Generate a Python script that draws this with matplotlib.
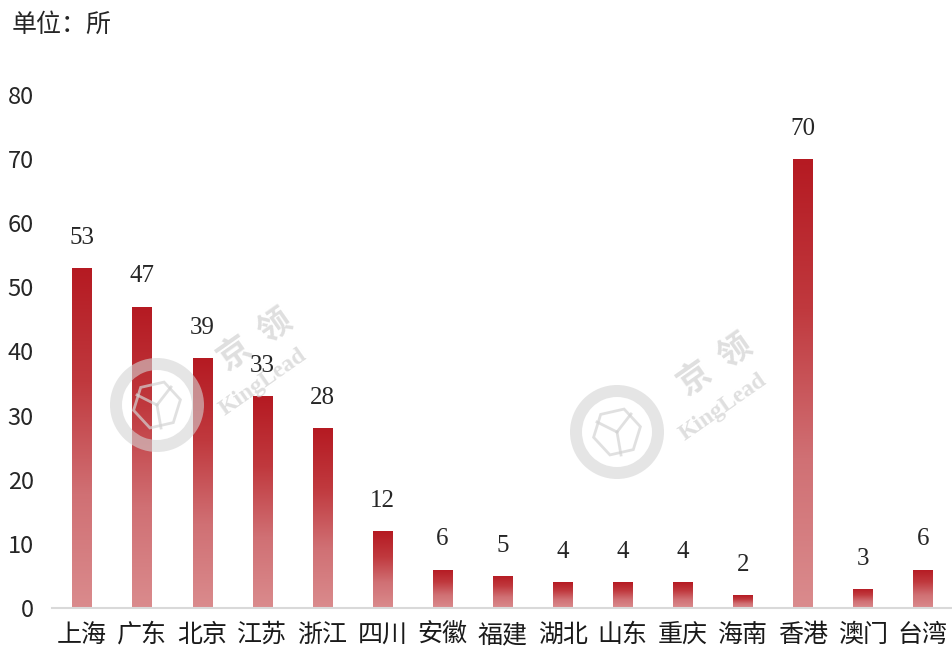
import numpy as np
import matplotlib.pyplot as plt
from matplotlib.colors import LinearSegmentedColormap
from matplotlib.patches import Wedge, RegularPolygon

plt.rcParams['font.family'] = ['Noto Sans CJK SC', 'DejaVu Sans']

regions = ['上海', '广东', '北京', '江苏', '浙江', '四川', '安徽', '福建', '湖北',
           '山东', '重庆', '海南', '香港', '澳门', '台湾']
counts = [53, 47, 39, 33, 28, 12, 6, 5, 4, 4, 4, 2, 70, 3, 6]
yticks = [0, 10, 20, 30, 40, 50, 60, 70, 80]

fig = plt.figure(figsize=(9.53, 6.52), dpi=100)
ax = fig.add_axes([52 / 953, 1 - 608 / 652, 901 / 953, 513 / 652])

# gradient: pink at bottom, dark red at top
cmap = LinearSegmentedColormap.from_list('bar_grad', ['#DA8B8D', '#D07074', '#C0393E', '#B51A22'])
grad = np.linspace(0, 1, 256).reshape(-1, 1)

x = np.arange(len(regions))
bars = ax.bar(x, counts, width=0.32, color='none', edgecolor='none', zorder=2)
for rect, v in zip(bars, counts):
    bx, bw = rect.get_x(), rect.get_width()
    im = ax.imshow(grad, extent=[bx, bx + bw, 0, v], origin='lower', aspect='auto',
                   cmap=cmap, zorder=2)
    im.set_clip_path(rect)
    ax.text(bx + bw / 2, v + 3.0, str(v), ha='center', va='bottom',
            fontsize=18, family=['Liberation Serif'], color='#262626')

ax.set_xlim(-0.5, len(regions) - 0.5)
ax.set_ylim(0, 80)
ax.set_yticks(yticks)
ax.set_xticks(x)
ax.set_xticklabels(regions, fontsize=18, color='#1a1a1a')
ax.tick_params(axis='y', labelsize=17, length=0, pad=13, labelcolor='#262626')
ax.tick_params(axis='x', length=0, pad=10)
for s in ['top', 'right', 'left']:
    ax.spines[s].set_visible(False)
ax.spines['bottom'].set_color('#D9D9D9')
ax.spines['bottom'].set_linewidth(1.5)

fig.text(12 / 953, 1 - 25 / 652, '单位：所', fontsize=18, va='center', ha='left', color='#262626')

# faint watermarks drawn in a pixel-space overlay
ov = fig.add_axes([0, 0, 1, 1], zorder=5)
ov.set_xlim(0, 953)
ov.set_ylim(652, 0)
ov.axis('off')
wm = '#D4D4D4'
for cx, cy, tx, ty in [(157, 405, 255, 340), (617, 432, 715, 365)]:
    ov.add_patch(Wedge((cx, cy), 47, 0, 360, width=12, facecolor=wm, edgecolor='none', alpha=0.6))
    ov.add_patch(RegularPolygon((cx, cy), 6, radius=24, orientation=0.3, facecolor='none',
                                edgecolor=wm, lw=2, alpha=0.7))
    ov.plot([cx, cx - 20], [cy, cy - 10], color=wm, lw=2, alpha=0.7)
    ov.plot([cx, cx + 14], [cy, cy - 18], color=wm, lw=2, alpha=0.7)
    ov.plot([cx, cx + 4], [cy, cy + 23], color=wm, lw=2, alpha=0.7)
    ov.text(tx, ty, '京  领', rotation=35, fontsize=24, color=wm,
            alpha=0.75, ha='center', va='center', weight='bold')
    ov.text(tx + 8, ty + 42, 'KingLead', rotation=35, fontsize=17,
            color=wm, alpha=0.75, ha='center', va='center', family=['Liberation Serif'],
            weight='bold')

fig.savefig('out.png', dpi=100)
